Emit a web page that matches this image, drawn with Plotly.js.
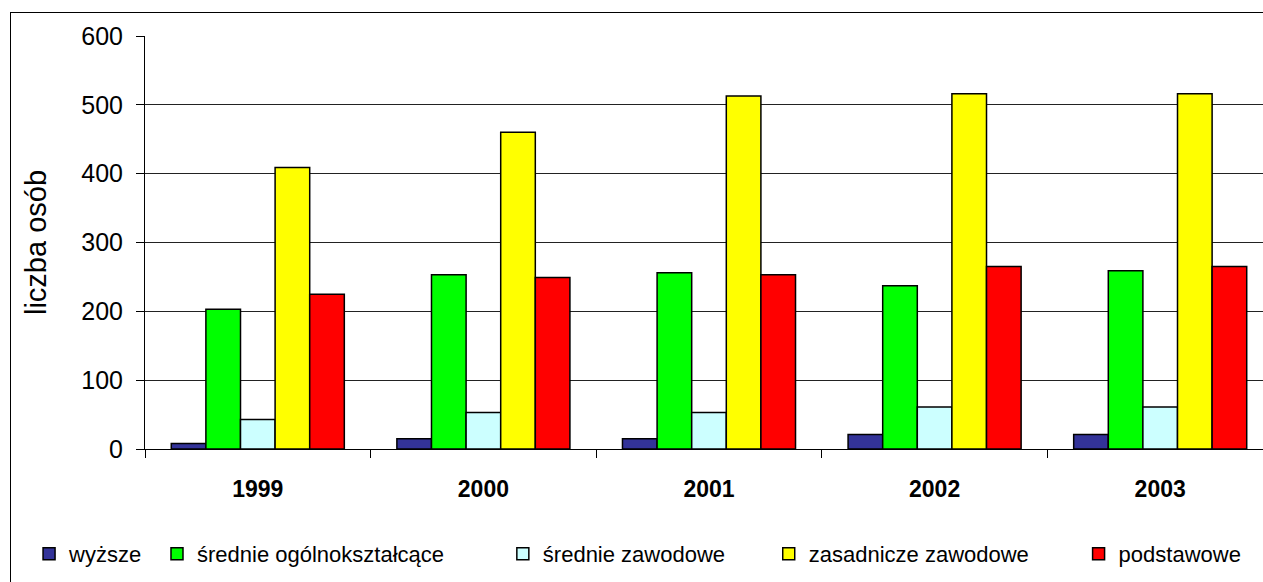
<!DOCTYPE html>
<html><head><meta charset="utf-8">
<script src="https://cdn.plot.ly/plotly-3.0.1.min.js"></script>
<style>
html{overflow:hidden;}
html,body{margin:0;padding:0;background:#fff;}
#frame{position:absolute;left:10px;top:12px;width:1320px;height:640px;border:1px solid #000;border-right:none;border-bottom:none;box-sizing:border-box;}
#chart{position:absolute;left:0;top:0;width:1290px;height:600px;}
</style></head>
<body>
<div id="frame"></div>
<div id="chart"></div>
<script>
const years = ['1999','2000','2001','2002','2003'];
const seriesNames = ['wyższe','średnie ogólnokształcące','średnie zawodowe','zasadnicze zawodowe','podstawowe'];
const wyzsze = [8, 15, 15, 21, 21];
const srednieOgolno = [203, 253, 256, 237, 259];
const srednieZawodowe = [43, 53, 53, 61, 61];
const zasadniczeZawodowe = [409, 460, 513, 516, 516];
const podstawowe = [225, 249, 253, 265, 265];
const colors = ['#333399','#00FF00','#CCFFFF','#FFFF00','#FF0000'];
const allValues = [wyzsze, srednieOgolno, srednieZawodowe, zasadniczeZawodowe, podstawowe];

const FONT = 'Liberation Sans, Arial, sans-serif';
const legendIds = ['legend','legend2','legend3','legend4','legend5'];
const legendLeftPx = [29, 157, 503, 769, 1079];
const plotLeft = 145, plotWidth = 1128.5;

const traces = allValues.map((v,i)=>({
  type:'bar', x:years, y:v, name:seriesNames[i], legend:legendIds[i],
  marker:{color:colors[i], line:{color:'#000', width:1.5}},
  hoverinfo:'skip'
}));

const layout = {
  width:1290, height:600,
  margin:{l:145, r:16.5, t:36, b:151, pad:0},
  paper_bgcolor:'rgba(0,0,0,0)', plot_bgcolor:'#fff',
  font:{family:FONT, color:'#000'},
  barmode:'group', bargap:0.233, bargroupgap:0,
  showlegend:true,
  xaxis:{type:'category', tickson:'boundaries', ticks:'outside', ticklen:8, tickcolor:'#000', tickwidth:1,
    showline:true, linecolor:'#000', linewidth:1, showgrid:false, zeroline:false,
    tickfont:{size:23, family:FONT, weight:'bold'}, ticklabelstandoff:19, fixedrange:true},
  yaxis:{range:[0,600], dtick:100, tick0:0, ticks:'outside', ticklen:8, tickcolor:'#000', tickwidth:1,
    showline:true, linecolor:'#000', linewidth:1, showgrid:true, gridcolor:'#222', gridwidth:1, zeroline:false,
    tickfont:{size:25, family:FONT}, ticklabelstandoff:8,
    title:{text:'liczba osób', font:{size:29, family:FONT}, standoff:26},
    automargin:false, fixedrange:true}
};
legendIds.forEach((id,i)=>{
  layout[id] = {orientation:'h', x:(legendLeftPx[i]-plotLeft)/plotWidth, xanchor:'left',
    y:-0.254, yanchor:'middle', font:{size:22, family:FONT}, itemwidth:30, bgcolor:'rgba(0,0,0,0)'};
});
Plotly.newPlot('chart', traces, layout, {displayModeBar:false, staticPlot:true});
</script>
</body></html>
